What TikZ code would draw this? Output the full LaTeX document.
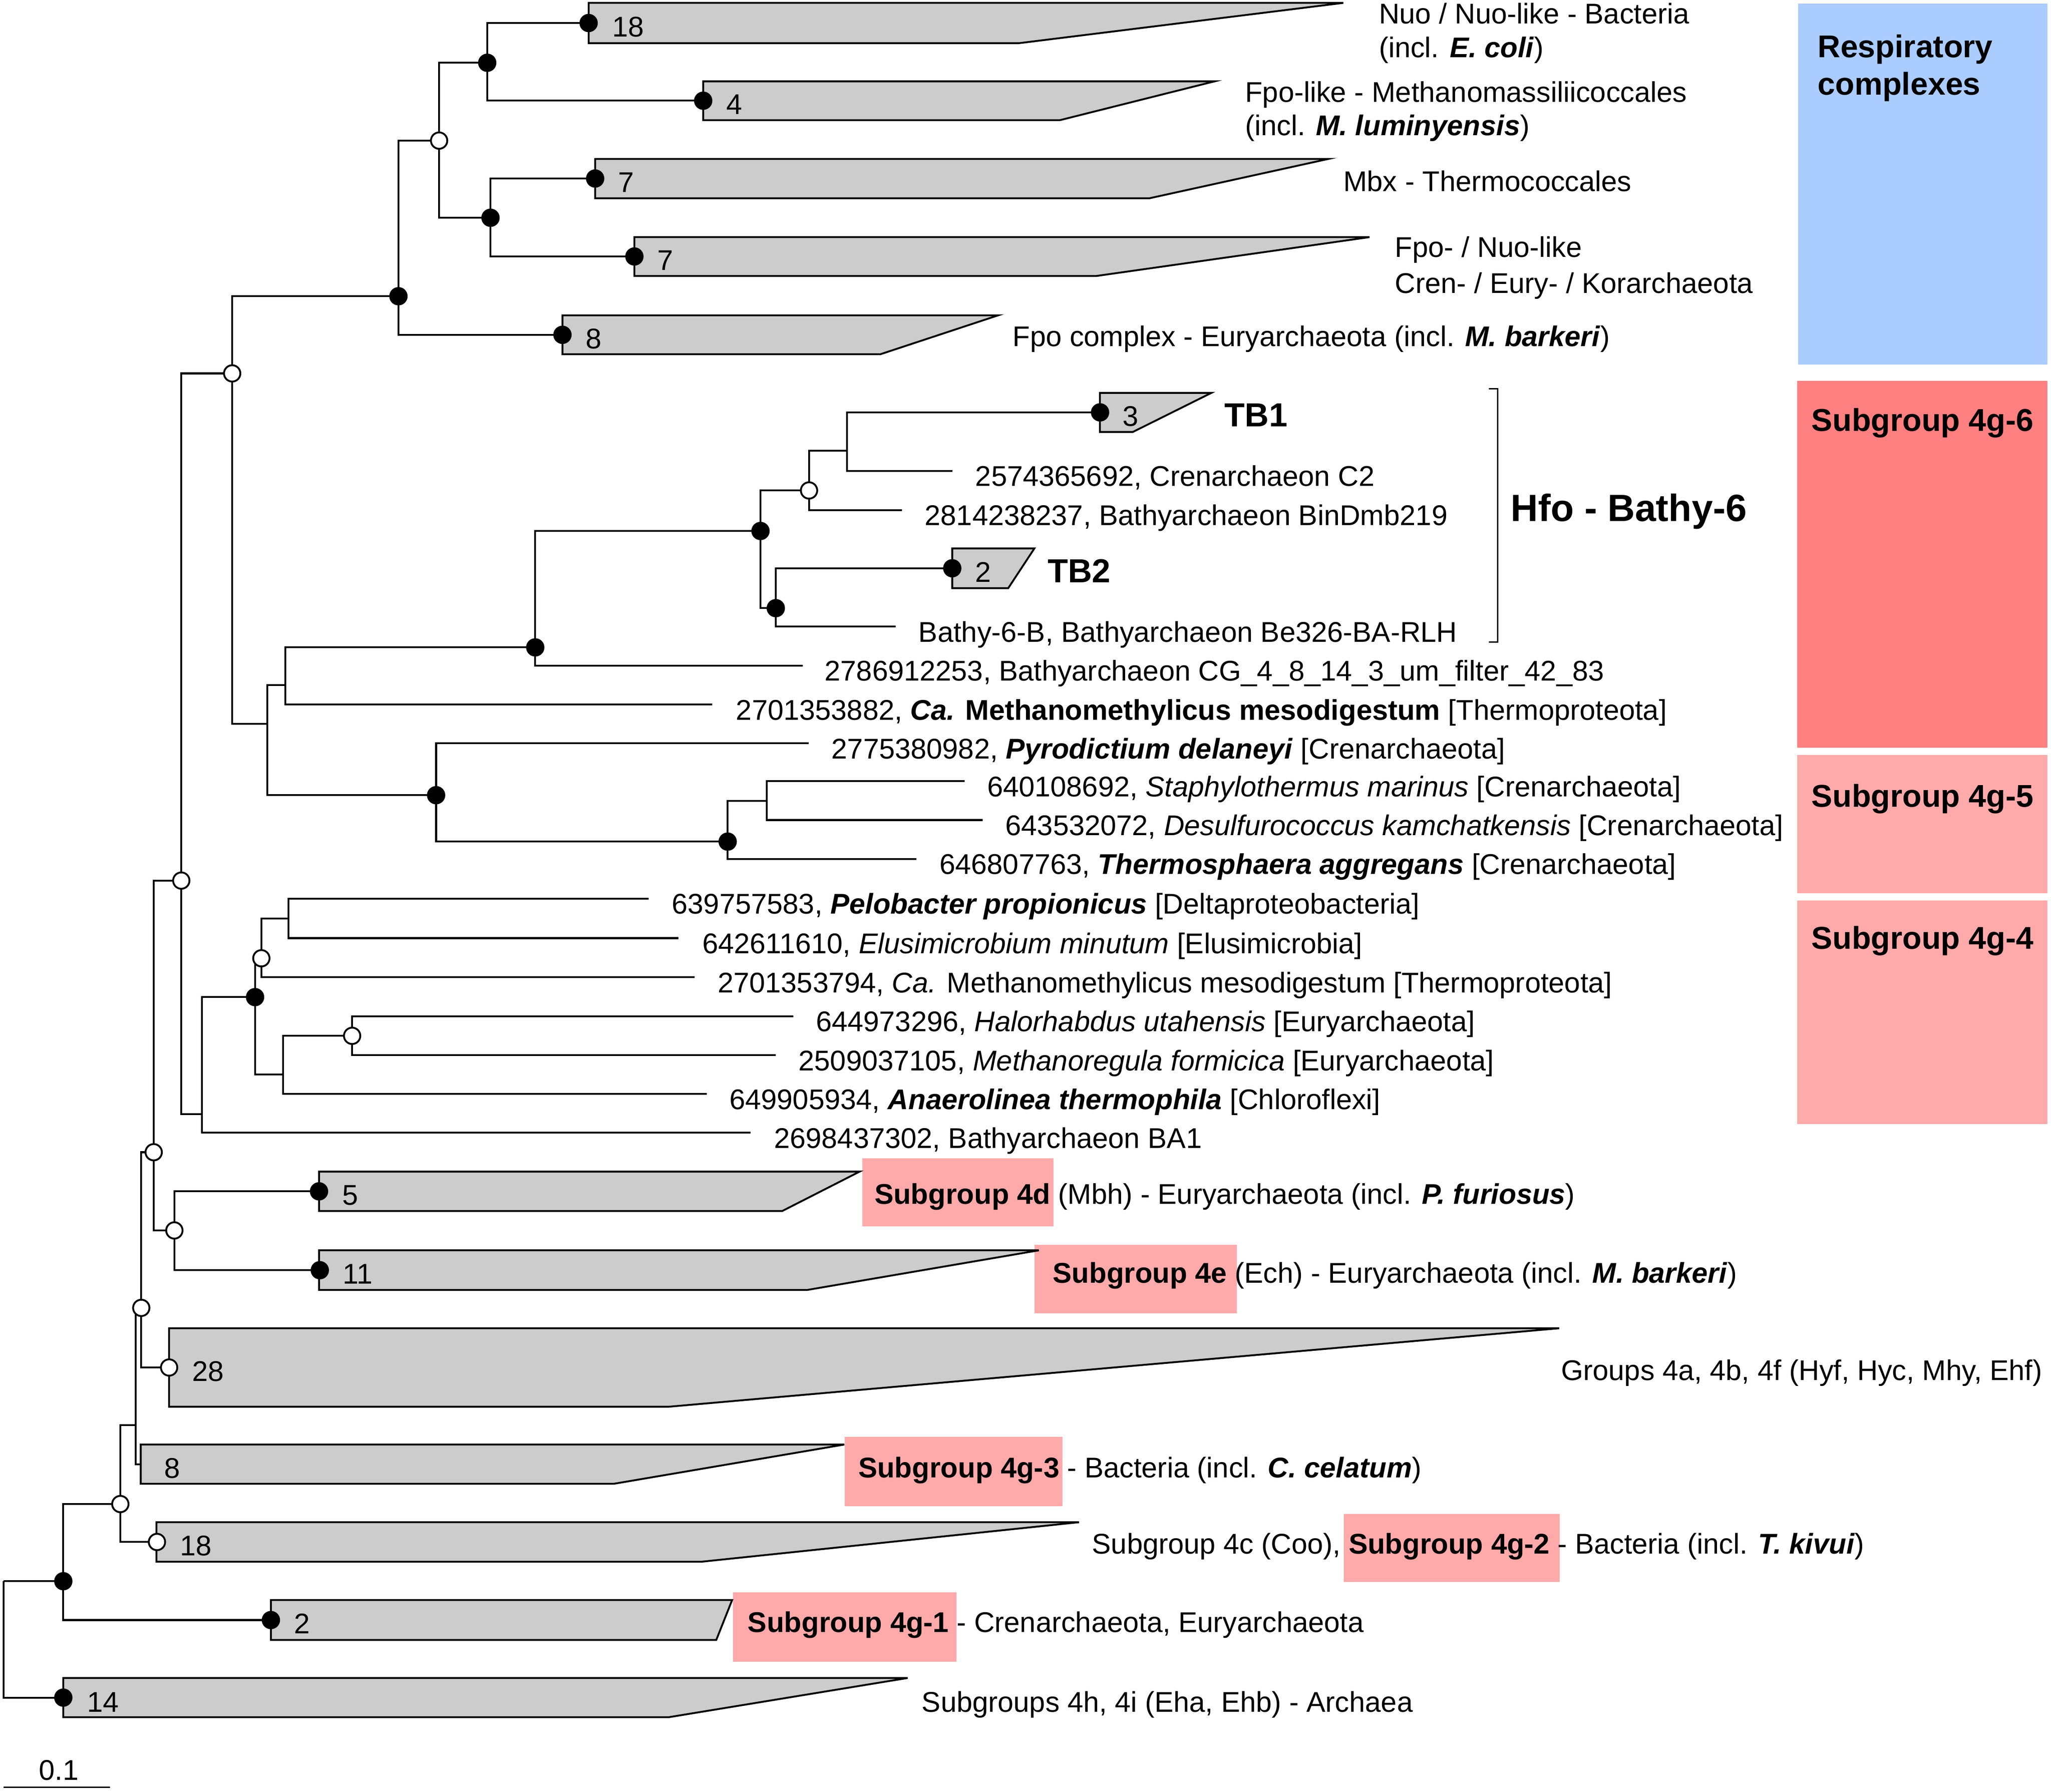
\documentclass[tikz,border=0pt]{standalone}
\usepackage{fontspec}
\setmainfont{Liberation Sans}
\newcommand{\bi}[1]{\textbf{\textit{#1}}}
\definecolor{clgray}{RGB}{204,204,204}
\definecolor{respblue}{RGB}{170,204,255}
\definecolor{sgred}{RGB}{255,128,128}
\definecolor{sgpink}{RGB}{255,170,170}
\begin{document}
\begin{tikzpicture}[x=0.02cm,y=-0.02cm,line width=0.8pt,
  clade/.style={fill=clgray,draw=black,line width=0.8pt},
  bnode/.style={circle,fill=black,inner sep=0pt,minimum size=0.28cm},
  wnode/.style={circle,fill=white,draw=black,line width=0.8pt,inner sep=0pt,minimum size=0.25cm},
  lab/.style={anchor=base west,inner sep=0pt,font=\fontsize{12.4}{14}\selectfont},
  blab/.style={anchor=base west,inner sep=0pt,font=\fontsize{14.5}{16}\selectfont\bfseries},
  hlab/.style={anchor=base west,inner sep=0pt,font=\fontsize{16.5}{18}\selectfont\bfseries},
  slab/.style={anchor=base west,inner sep=0pt,font=\fontsize{13.7}{16}\selectfont\bfseries},
]
\useasboundingbox (0,0) rectangle (1568,1370);

% ---------- coloured backgrounds ----------
\fill[respblue] (1374.8,2.6) rectangle (1565.2,278.7);
\fill[sgred] (1374.1,291.2) rectangle (1565.2,571.6);
\fill[sgpink] (1374.1,577.1) rectangle (1565.2,683);
\fill[sgpink] (1374.1,688.5) rectangle (1565.2,859.5);
\fill[sgpink] (659.2,885.5) rectangle (805.5,937.6);
\fill[sgpink] (790.8,951.8) rectangle (945.5,1004.1);
\fill[sgpink] (645.8,1098.5) rectangle (812.2,1151.7);
\fill[sgpink] (1027.3,1157.4) rectangle (1192.4,1209.5);
\fill[sgpink] (560.3,1217.6) rectangle (731.4,1270.6);

% ---------- collapsed clades ----------
\filldraw[clade] (450,2.2) -- (1027,2.2) -- (779.1,33) -- (450,33) -- cycle;
\filldraw[clade] (537.6,62.2) -- (928.5,62.2) -- (810.2,91.9) -- (537.6,91.9) -- cycle;
\filldraw[clade] (455,121.5) -- (1015.6,121.5) -- (878.7,151.6) -- (455,151.6) -- cycle;
\filldraw[clade] (485,181.3) -- (1047,181.3) -- (838.2,211) -- (485,211) -- cycle;
\filldraw[clade] (430,241.1) -- (763.1,241.1) -- (673.2,270.8) -- (430,270.8) -- cycle;
\filldraw[clade] (840.9,300.4) -- (926.1,300.4) -- (866,330.3) -- (840.9,330.3) -- cycle;
\filldraw[clade] (728,419.3) -- (790.8,419.3) -- (770.8,449.7) -- (728,449.7) -- cycle;
\filldraw[clade] (243.9,895.8) -- (657.2,895.8) -- (598.1,925.9) -- (243.9,925.9) -- cycle;
\filldraw[clade] (243.9,956) -- (794.2,956) -- (617.1,986.3) -- (243.9,986.3) -- cycle;
\filldraw[clade] (129.3,1015.6) -- (1192,1015.6) -- (511.1,1075.6) -- (129.3,1075.6) -- cycle;
\filldraw[clade] (107.6,1104.5) -- (645.5,1104.5) -- (469.3,1134.5) -- (107.6,1134.5) -- cycle;
\filldraw[clade] (119.6,1163.9) -- (824.9,1163.9) -- (536.3,1194.1) -- (119.6,1194.1) -- cycle;
\filldraw[clade] (207.1,1223.4) -- (559.7,1223.4) -- (547.6,1253.9) -- (207.1,1253.9) -- cycle;
\filldraw[clade] (48.4,1283) -- (693.9,1283) -- (511.1,1313) -- (48.4,1313) -- cycle;

% ---------- tree coordinates ----------
\coordinate (root) at (2.7,1209);
\coordinate (BB) at (48.4,1209);
\coordinate (c14) at (48.4,1298);
\coordinate (AA) at (92,1150);
\coordinate (c2) at (207.1,1238.7);
\coordinate (Z) at (103.6,1089.5);
\coordinate (c18b) at (120,1179);
\coordinate (Y) at (108,1000);
\coordinate (c8b) at (107.6,1119.5);
\coordinate (W) at (117.5,881);
\coordinate (c28) at (129.3,1045.6);
\coordinate (X) at (133.3,940.8);
\coordinate (M) at (138.6,673.3);
\coordinate (c5) at (243.9,910.9);
\coordinate (c11) at (244.5,971.2);
\coordinate (H) at (177.5,285.5);
\coordinate (N) at (154.3,851.8);
\coordinate (I) at (304.6,226.5);
\coordinate (A) at (204.4,553.4);
\coordinate (J) at (335.7,107.5);
\coordinate (c8a) at (430,256);
\coordinate (K) at (372.5,48);
\coordinate (L) at (375,166.5);
\coordinate (c18a) at (450,17.6);
\coordinate (c4) at (537.6,77);
\coordinate (c7a) at (455,136.5);
\coordinate (c7b) at (485,196.1);
\coordinate (B) at (218,523.7);
\coordinate (P) at (333.4,608);
\coordinate (C) at (409.2,495);
\coordinate (e7) at (544.6,538.7);
\coordinate (D) at (581.4,406);
\coordinate (e6) at (613.8,509);
\coordinate (E) at (618.5,375);
\coordinate (F) at (593.1,465);
\coordinate (G) at (647.5,344.6);
\coordinate (e3) at (689.6,390.1);
\coordinate (tb1) at (841,315.3);
\coordinate (e2) at (728,360);
\coordinate (tb2) at (728,434.5);
\coordinate (e5) at (684.6,479.1);
\coordinate (e8) at (618.1,568.3);
\coordinate (Q) at (556.3,643.5);
\coordinate (R) at (586.1,612.3);
\coordinate (e11) at (700.6,656.7);
\coordinate (e9) at (737.4,597.3);
\coordinate (e10) at (751.4,627);
\coordinate (O) at (195,762.4);
\coordinate (e18) at (573.7,866.1);
\coordinate (S) at (199.8,732.7);
\coordinate (T) at (216.5,821.7);
\coordinate (U) at (220.5,702.4);
\coordinate (e14) at (530.9,747.2);
\coordinate (e12) at (496,687);
\coordinate (e13) at (518.6,717.3);
\coordinate (V) at (269.2,792);
\coordinate (e17) at (540.3,836.5);
\coordinate (e15) at (606.4,777.1);
\coordinate (e16) at (593.1,806.8);

% ---------- branches ----------
\foreach \p/\c in {root/BB,root/c14,BB/AA,BB/c2,AA/Z,AA/c18b,Z/Y,Z/c8b,Y/W,Y/c28,
  W/M,W/X,X/c5,X/c11,M/H,M/N,H/I,H/A,I/J,I/c8a,J/K,J/L,K/c18a,K/c4,L/c7a,L/c7b,
  A/B,A/P,B/C,B/e7,C/D,C/e6,D/E,D/F,E/G,E/e3,G/tb1,G/e2,F/tb2,F/e5,
  P/e8,P/Q,Q/R,Q/e11,R/e9,R/e10,N/O,N/e18,O/S,O/T,S/U,S/e14,U/e12,U/e13,
  T/V,T/e17,V/e15,V/e16}
  \draw (\p) |- (\c);

% ---------- support circles ----------
\foreach \n in {K,L,I,c18a,c4,c7a,c7b,c8a,tb1,tb2,C,D,F,P,Q,O,c5,c11,BB,c2,c14}
  \node[bnode] (b\n) at (\n) {};
\foreach \n in {J,H,M,E,S,V,W,X,Y,c28,AA,c18b}
  \node[wnode] (w\n) at (\n) {};

% ---------- clade sizes ----------
\node[lab] (n18a) at (467.5,28.1) {18};
\node[lab] (n4) at (554.6,87.5) {4};
\node[lab] (n7a) at (472,147) {7};
\node[lab] (n7b) at (502,206.6) {7};
\node[lab] (n8a) at (447,266.5) {8};
\node[lab] (n3) at (857.5,325.8) {3};
\node[lab] (n2a) at (744.7,445) {2};
\node[lab] (n5) at (261,921.4) {5};
\node[lab] (n11) at (261.5,981.7) {11};
\node[lab] (n28) at (146.3,1056.1) {28};
\node[lab] (n8b) at (125,1130) {8};
\node[lab] (n18b) at (137,1189.5) {18};
\node[lab] (n2b) at (224,1249.2) {2};
\node[lab] (n14) at (66,1309) {14};

% ---------- clade names ----------
\node[lab] (t1a) at (1053.5,18) {Nuo / Nuo-like - Bacteria};
\node[lab] (t1b) at (1053.5,44) {(incl. \bi{E. coli})};
\node[lab] (t2a) at (951.2,78) {Fpo-like - Methanomassiliicoccales};
\node[lab] (t2b) at (951.2,103.5) {(incl. \bi{M. luminyensis})};
\node[lab] (t3) at (1026.3,146.2) {Mbx - Thermococcales};
\node[lab] (t4a) at (1065.8,196.7) {Fpo- / Nuo-like};
\node[lab] (t4b) at (1065.8,224.2) {Cren- / Eury- / Korarchaeota};
\node[lab] (t5) at (773.5,265) {Fpo complex - Euryarchaeota (incl. \bi{M. barkeri})};
\node[blab] (ttb1) at (935.5,326) {TB1};
\node[blab] (ttb2) at (800.2,445.3) {TB2};
\node[hlab] (thfo) at (1154.3,398.4) {Hfo - Bathy-6};
\coordinate (br1) at (1138.3,297.1);
\coordinate (br2) at (1145,297.1);
\coordinate (br3) at (1145,490.8);
\coordinate (br4) at (1138.3,490.8);
\draw[line width=0.6pt] (br1) -- (br2) -- (br3) -- (br4);

% ---------- leaves ----------
\node[lab] (l2) at (745,371.7) {2574365692, Crenarchaeon C2};
\node[lab] (l3) at (706.3,401.8) {2814238237, Bathyarchaeon BinDmb219};
\node[lab] (l5) at (701.6,490.8) {Bathy-6-B, Bathyarchaeon Be326-BA-RLH};
\node[lab] (l6) at (629.8,520.7) {2786912253, Bathyarchaeon CG\_4\_8\_14\_3\_um\_filter\_42\_83};
\node[lab] (l7) at (562,550.4) {2701353882, \textbf{\textit{Ca.} Methanomethylicus mesodigestum} [Thermoproteota]};
\node[lab] (l8) at (635,580) {2775380982, \bi{Pyrodictium delaneyi} [Crenarchaeota]};
\node[lab] (l9) at (754,609) {640108692, \textit{Staphylothermus marinus} [Crenarchaeota]};
\node[lab] (l10) at (768,638.7) {643532072, \textit{Desulfurococcus kamchatkensis} [Crenarchaeota]};
\node[lab] (l11) at (717.6,668.4) {646807763, \bi{Thermosphaera aggregans} [Crenarchaeota]};
\node[lab] (l12) at (513,698.7) {639757583, \bi{Pelobacter propionicus} [Deltaproteobacteria]};
\node[lab] (l13) at (536.3,729) {642611610, \textit{Elusimicrobium minutum} [Elusimicrobia]};
\node[lab] (l14) at (548,758.9) {2701353794, \textit{Ca.} Methanomethylicus mesodigestum [Thermoproteota]};
\node[lab] (l15) at (623.1,788.8) {644973296, \textit{Halorhabdus utahensis} [Euryarchaeota]};
\node[lab] (l16) at (609.8,818.5) {2509037105, \textit{Methanoregula formicica} [Euryarchaeota]};
\node[lab] (l17) at (557,848.2) {649905934, \bi{Anaerolinea thermophila} [Chloroflexi]};
\node[lab] (l18) at (591.1,877.8) {2698437302, Bathyarchaeon BA1};

% ---------- lower clade names ----------
\node[lab] (s4d) at (667.9,920.6) {\textbf{Subgroup 4d} (Mbh) - Euryarchaeota (incl. \bi{P. furiosus})};
\node[lab] (s4e) at (804.2,981.1) {\textbf{Subgroup 4e} (Ech) - Euryarchaeota (incl. \bi{M. barkeri})};
\node[lab] (s4ab) at (1192.8,1055.2) {Groups 4a, 4b, 4f (Hyf, Hyc, Mhy, Ehf)};
\node[lab] (s4g3) at (655.5,1129.8) {\textbf{Subgroup 4g-3} - Bacteria (incl. \bi{C. celatum})};
\node[lab] (s4c) at (834.2,1188.1) {Subgroup 4c (Coo), \textbf{Subgroup 4g-2} - Bacteria (incl. \bi{T. kivui})};
\node[lab] (s4g1) at (571,1248.1) {\textbf{Subgroup 4g-1} - Crenarchaeota, Euryarchaeota};
\node[lab] (s4h) at (704,1309.1) {Subgroups 4h, 4i (Eha, Ehb) - Archaea};

% ---------- side labels ----------
\node[slab] (r1) at (1389,44) {Respiratory};
\node[slab] (r2) at (1389,72.5) {complexes};
\node[slab] (g6) at (1384.2,329.7) {Subgroup 4g-6};
\node[slab] (g5) at (1384.2,617.1) {Subgroup 4g-5};
\node[slab] (g4) at (1384.2,725.5) {Subgroup 4g-4};

% ---------- scale bar ----------
\coordinate (sb1) at (2.7,1366.5);
\coordinate (sb2) at (84.2,1366.5);
\draw[line width=0.7pt] (sb1) -- (sb2);
\node[anchor=base,inner sep=0pt,font=\fontsize{12.4}{14}\selectfont] (sbl) at (45,1361) {0.1};
\end{tikzpicture}
\end{document}
